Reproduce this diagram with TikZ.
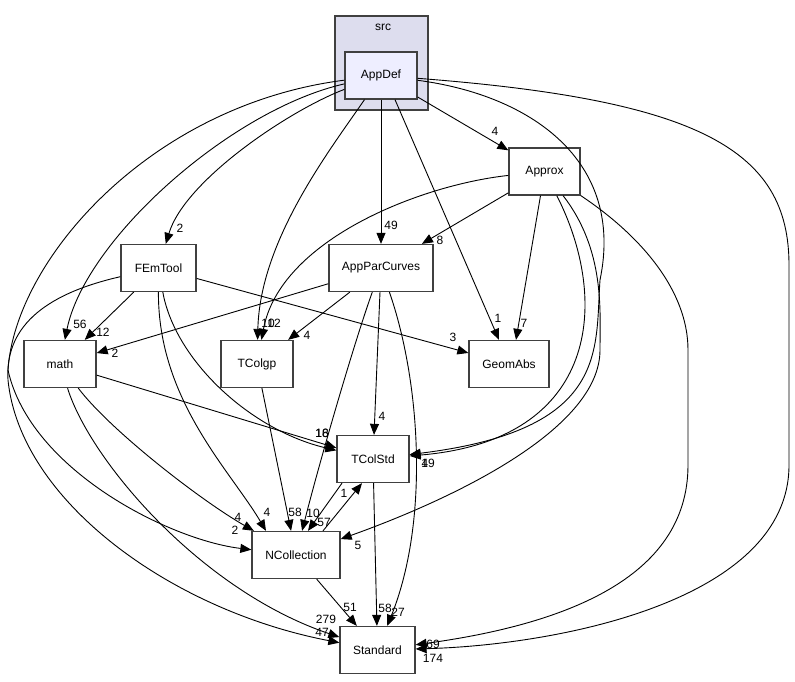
\documentclass[tikz,border=0pt]{standalone}
\usepackage{fontspec}
\setmainfont{Liberation Sans}
\usetikzlibrary{arrows.meta}
\definecolor{clusterfill}{HTML}{DDDDEE}
\definecolor{mainfill}{HTML}{EEEEFF}
\definecolor{boxline}{HTML}{404040}
\begin{document}
\begin{tikzpicture}[x=1pt,y=-1pt,
  box/.style={draw=boxline,line width=1.3pt,fill=white,minimum height=47pt,inner sep=0pt,font=\fontsize{12}{14}\selectfont},
  dep/.style={-{Triangle[length=11pt,width=9pt]},line width=0.9pt},
  num/.style={inner sep=0pt,font=\fontsize{12}{14}\selectfont}]
\useasboundingbox (0,0) rectangle (795,681);
% directory cluster
\node[draw=boxline,fill=clusterfill,line width=1.3pt,minimum width=93pt,minimum height=94pt,inner sep=0pt] (src) at (381.5,63) {};
\node[num] (srcname) at (383,27) {src};
% directories
\node[box,fill=mainfill,minimum width=72pt] (AppDef) at (381,75.5) {AppDef};
\node[box,minimum width=71pt] (Approx) at (544.5,171.5) {Approx};
\node[box,minimum width=75pt] (FEmTool) at (158.5,268) {FEmTool};
\node[box,minimum width=104pt] (AppParCurves) at (381,268) {AppParCurves};
\node[box,minimum width=72pt] (math) at (60,364) {math};
\node[box,minimum width=72pt] (TColgp) at (257,364) {TColgp};
\node[box,minimum width=80pt] (GeomAbs) at (509,364) {GeomAbs};
\node[box,minimum width=72pt] (TColStd) at (373,459) {TColStd};
\node[box,minimum width=88pt] (NCollection) at (296,555) {NCollection};
\node[box,minimum width=75pt] (Standard) at (377.5,650) {Standard};
% AppDef
\draw[dep] (AppDef) -- (Approx) node[num] (nA1) at (495,131) {4};
\draw[dep] (AppDef) .. controls (290,110) and (185,180) .. (FEmTool) node[num] (nA2) at (180,228) {2};
\draw[dep] (AppDef) -- (AppParCurves) node[num] (nA3) at (391,225) {49};
\draw[dep] (AppDef) .. controls (330,150) and (260,240) .. (TColgp) node[num] (nA4) at (268,323) {10};
\draw[dep] ([xshift=14pt]AppDef.south) -- ([xshift=-10pt]GeomAbs.north) node[num] (nA5) at (498,318) {1};
\draw[dep] (AppDef) .. controls (230,110) and (85,240) .. (math) node[num] (nA6) at (80,324) {56};
\draw[dep] (AppDef) .. controls (150,105) and (15,260) .. (8,370) .. controls (30,470) and (170,540) .. (NCollection) node[num] (nA7) at (235,530) {2};
\draw[dep] (AppDef) .. controls (530,95) and (625,160) .. (600,280) .. controls (595,350) and (610,430) .. (TColStd) node[num] (nA8) at (428,463) {19};
\draw[dep] (AppDef) .. controls (700,100) and (789,150) .. (789,265) -- (789,465) .. controls (789,600) and (560,645) .. (Standard) node[num] (nA9) at (433,658) {174};
% Approx
\draw[dep] (Approx) -- (AppParCurves) node[num] (nB1) at (440,240) {8};
\draw[dep] ([xshift=-4pt]Approx.south) -- ([xshift=7pt]GeomAbs.north) node[num] (nB2) at (524,323) {7};
\draw[dep] (Approx) .. controls (420,185) and (280,240) .. (TColgp) node[num] (nB3) at (274,323) {12};
\draw[dep] (Approx) .. controls (610,300) and (600,440) .. (TColStd) node[num] (nB4) at (425,463) {4};
\draw[dep] (Approx) .. controls (605,250) and (600,310) .. (600,350) .. controls (600,430) and (450,500) .. (NCollection) node[num] (nB5) at (358,545) {5};
\draw[dep] (Approx) .. controls (640,235) and (688,290) .. (688,350) -- (688,465) .. controls (688,580) and (560,625) .. (Standard) node[num] (nB6) at (433,644) {69};
% FEmTool
\draw[dep] (FEmTool) -- (math) node[num] (nC1) at (103,332) {12};
\draw[dep] (FEmTool) -- (GeomAbs) node[num] (nC2) at (453,337) {3};
\draw[dep] (FEmTool) .. controls (175,360) and (250,430) .. (TColStd) node[num] (nC3) at (322,433) {18};
\draw[dep] (FEmTool) .. controls (158,400) and (230,470) .. ([xshift=-30pt]NCollection.north) node[num] (nC4) at (267,512) {4};
\draw[dep] (FEmTool) .. controls (40,295) and (5,330) .. (8,380) .. controls (20,500) and (170,610) .. (Standard) node[num] (nC5) at (322,632) {47};
% AppParCurves
\draw[dep] (AppParCurves) -- (math) node[num] (nD1) at (115,353) {2};
\draw[dep] (AppParCurves) -- (TColgp) node[num] (nD2) at (307,335) {4};
\draw[dep] (AppParCurves) -- (TColStd) node[num] (nD3) at (382,416) {4};
\draw[dep] (AppParCurves) .. controls (355,340) and (320,460) .. (NCollection) node[num] (nD4) at (313,513) {10};
\draw[dep] (AppParCurves) .. controls (420,380) and (430,520) .. (Standard) node[num] (nD5) at (398,612) {27};
% math
\draw[dep] (math) -- (TColStd) node[num] (nE1) at (322,433) {16};
\draw[dep] (math) .. controls (110,430) and (200,500) .. (NCollection) node[num] (nE2) at (238,517) {4};
\draw[dep] (math) .. controls (90,460) and (200,590) .. (Standard) node[num] (nE3) at (326,619) {279};
% the rest
\draw[dep] (TColgp) -- (NCollection) node[num] (nF1) at (295,512) {58};
\draw[dep] ([xshift=-31pt]TColStd.south) -- ([xshift=12pt]NCollection.north) node[num] (nG1) at (324,522) {57};
\draw[dep] (TColStd) -- (Standard) node[num] (nG2) at (385,608) {58};
\draw[dep] ([xshift=27pt]NCollection.north) -- ([xshift=-11pt]TColStd.south) node[num] (nH1) at (344,493) {1};
\draw[dep] (NCollection) -- (Standard) node[num] (nH2) at (350,607) {51};
\end{tikzpicture}
\end{document}
